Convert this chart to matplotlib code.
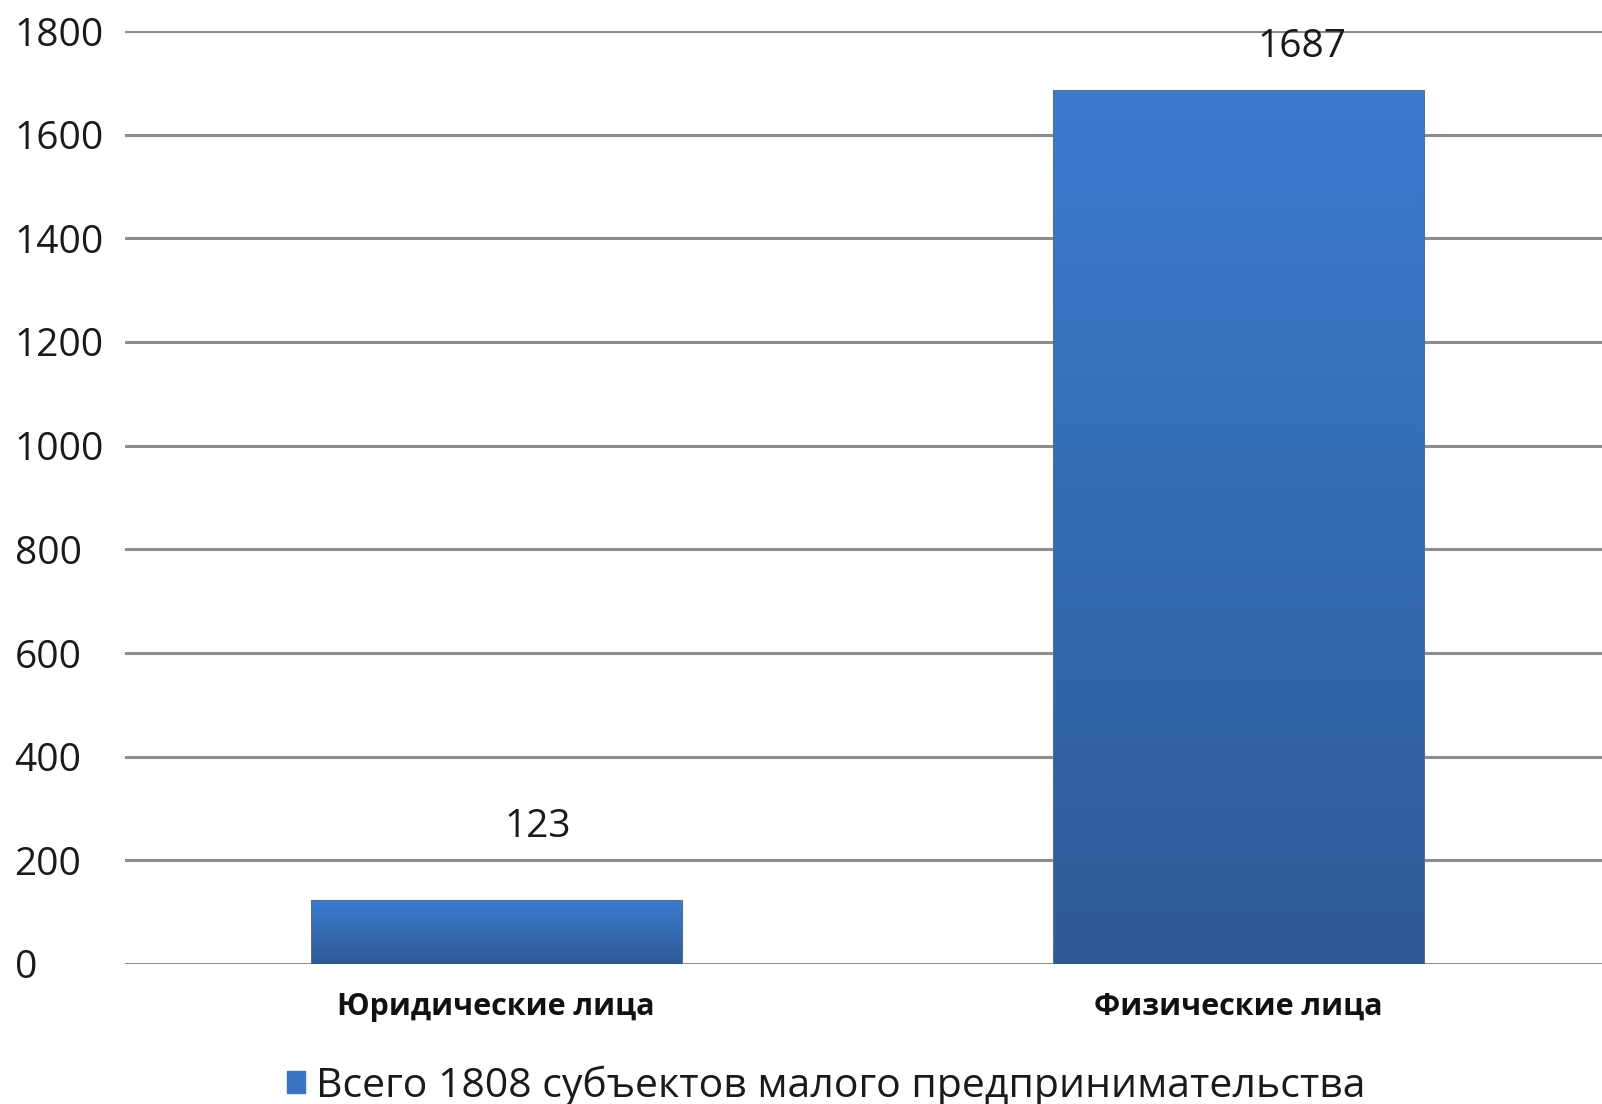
import numpy as np
import matplotlib
matplotlib.use("Agg")
import matplotlib.pyplot as plt
from matplotlib.patches import Patch
from matplotlib.colors import LinearSegmentedColormap

categories = ["Юридические лица", "Физические лица"]
values = [123, 1687]
series_name = "Всего 1808 субъектов малого предпринимательства"
yticks = [0, 200, 400, 600, 800, 1000, 1200, 1400, 1600, 1800]

# label offsets (points) relative to bar top centre, as placed in the original
label_offsets = [(30, 53), (46, 31)]

plt.rcParams['font.family'] = ['Open Sans', 'DejaVu Sans']

W, H = 1602, 1104
fig = plt.figure(figsize=(W / 100, H / 100), dpi=100)
ax = fig.add_axes([125 / W, 140 / H, (1609 - 125) / W, (1073 - 140) / H])

x = np.arange(len(categories))
bars = ax.bar(x, values, width=0.5, color='none', edgecolor='#5b6f8c',
              linewidth=0.8, zorder=3)

cmap = LinearSegmentedColormap.from_list('g', ['#2d5a96', '#3b7ccf'])
grad = np.linspace(0, 1, 256).reshape(-1, 1)
for b in bars:
    x0, y0 = b.get_x(), b.get_y()
    w, h = b.get_width(), b.get_height()
    im = ax.imshow(grad, cmap=cmap, aspect='auto', origin='lower',
                   extent=[x0, x0 + w, y0, y0 + h], zorder=2)
    im.set_clip_path(b)

for i, (b, v) in enumerate(zip(bars, values)):
    ax.annotate(str(v), xy=(b.get_x() + b.get_width() / 2, v),
                xytext=label_offsets[i], textcoords='offset points',
                ha='center', va='center', fontsize=28, color='#1a1a1a')

ax.set_xlim(-0.5, 1.5)
ax.set_ylim(0, 1800)
ax.set_yticks(yticks)
ax.set_yticklabels([str(t) for t in yticks])
ax.yaxis.grid(True, color='#8c8c8c', linewidth=2.2, zorder=0)
ax.set_axisbelow(True)
for s in ax.spines.values():
    s.set_visible(False)
ax.tick_params(axis='y', length=0, labelsize=28, labelcolor='#1a1a1a', pad=79.5)
for lab in ax.get_yticklabels():
    lab.set_horizontalalignment('left')
ax.set_xticks(x)
ax.set_xticklabels(categories, fontsize=22, fontweight='bold', color='#111111')
ax.tick_params(axis='x', length=0, pad=20)

handle = Patch(facecolor='#3a72c4', edgecolor='#3a72c4')
fig.legend([handle], [series_name], loc='center',
           bbox_to_anchor=(826 / W, 1 - 1086 / H), frameon=False,
           fontsize=29.5, handlelength=0.45, handleheight=0.45,
           handletextpad=0.25, labelcolor='#1a1a1a')

fig.savefig('out.png', dpi=100)
